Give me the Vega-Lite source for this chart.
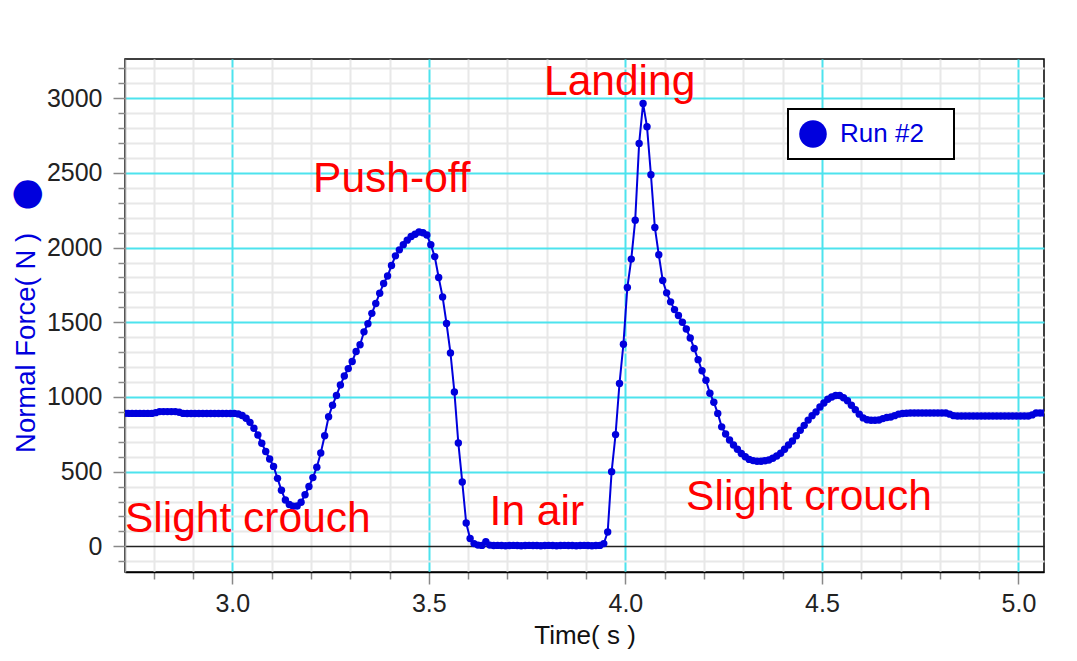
{
  "$schema": "https://vega.github.io/schema/vega-lite/v6.json",
  "width": 919,
  "height": 513,
  "autosize": {"type": "none"},
  "padding": {"left": 125, "top": 59, "right": 33, "bottom": 89},
  "background": "white",
  "config": {
    "view": {"stroke": "black", "strokeWidth": 1.5},
    "font": "Liberation Sans",
    "legend": {"strokeWidth": 2}
  },
  "datasets": {
    "force": [
      {"t":2.725,"f":890},{"t":2.735,"f":890},{"t":2.745,"f":890},{"t":2.755,"f":890},{"t":2.765,"f":890},{"t":2.775,"f":890},{"t":2.785,"f":890},{"t":2.795,"f":890},{"t":2.805,"f":895},{"t":2.815,"f":902},{"t":2.825,"f":902},{"t":2.835,"f":902},{"t":2.845,"f":902},{"t":2.855,"f":902},{"t":2.865,"f":898},{"t":2.875,"f":890},{"t":2.885,"f":889},{"t":2.895,"f":889},{"t":2.905,"f":889},{"t":2.915,"f":889},{"t":2.925,"f":889},{"t":2.935,"f":889},{"t":2.945,"f":889},{"t":2.955,"f":889},{"t":2.965,"f":889},{"t":2.975,"f":889},{"t":2.985,"f":889},{"t":2.995,"f":889},
      {"t":3.005,"f":890},{"t":3.015,"f":886},{"t":3.025,"f":876},{"t":3.035,"f":858},{"t":3.045,"f":830},{"t":3.055,"f":790},{"t":3.065,"f":745},{"t":3.075,"f":690},{"t":3.085,"f":635},{"t":3.095,"f":585},{"t":3.105,"f":535},{"t":3.115,"f":455},{"t":3.125,"f":375},{"t":3.135,"f":310},{"t":3.145,"f":280},{"t":3.155,"f":268},{"t":3.165,"f":270},{"t":3.175,"f":295},{"t":3.185,"f":345},{"t":3.195,"f":400},{"t":3.205,"f":460},{"t":3.215,"f":530},{"t":3.225,"f":625},{"t":3.235,"f":740},{"t":3.245,"f":868},{"t":3.255,"f":945},{"t":3.265,"f":1010},{"t":3.275,"f":1080},{"t":3.285,"f":1140},{"t":3.295,"f":1190},
      {"t":3.305,"f":1237},{"t":3.315,"f":1305},{"t":3.325,"f":1350},{"t":3.335,"f":1436},{"t":3.345,"f":1490},{"t":3.355,"f":1560},{"t":3.365,"f":1626},{"t":3.375,"f":1695},{"t":3.385,"f":1760},{"t":3.395,"f":1810},{"t":3.405,"f":1880},{"t":3.415,"f":1945},{"t":3.425,"f":1985},{"t":3.435,"f":2020},{"t":3.445,"f":2050},{"t":3.455,"f":2075},{"t":3.465,"f":2090},{"t":3.475,"f":2105},{"t":3.485,"f":2100},{"t":3.495,"f":2084},
      {"t":3.505,"f":2020},{"t":3.515,"f":1940},{"t":3.525,"f":1800},{"t":3.535,"f":1670},{"t":3.545,"f":1492},{"t":3.555,"f":1295},{"t":3.565,"f":1034},{"t":3.575,"f":692},{"t":3.585,"f":431},{"t":3.595,"f":156},{"t":3.605,"f":52},{"t":3.615,"f":18},{"t":3.625,"f":8},{"t":3.635,"f":6},{"t":3.645,"f":30},{"t":3.655,"f":8},{"t":3.665,"f":5},{"t":3.675,"f":6},{"t":3.685,"f":5},{"t":3.695,"f":4},
      {"t":3.705,"f":5},{"t":3.715,"f":6},{"t":3.725,"f":5},{"t":3.735,"f":4},{"t":3.745,"f":5},{"t":3.755,"f":6},{"t":3.765,"f":5},{"t":3.775,"f":5},{"t":3.785,"f":4},{"t":3.795,"f":5},{"t":3.805,"f":6},{"t":3.815,"f":5},{"t":3.825,"f":4},{"t":3.835,"f":5},{"t":3.845,"f":6},{"t":3.855,"f":5},{"t":3.865,"f":5},{"t":3.875,"f":4},{"t":3.885,"f":5},{"t":3.895,"f":6},
      {"t":3.905,"f":5},{"t":3.915,"f":4},{"t":3.925,"f":5},{"t":3.935,"f":6},{"t":3.945,"f":18},{"t":3.955,"f":96},{"t":3.965,"f":500},{"t":3.975,"f":748},{"t":3.985,"f":1090},{"t":3.995,"f":1353},
      {"t":4.005,"f":1733},{"t":4.015,"f":1923},{"t":4.025,"f":2184},{"t":4.035,"f":2698},{"t":4.045,"f":2965},{"t":4.055,"f":2810},{"t":4.065,"f":2488},{"t":4.075,"f":2135},{"t":4.085,"f":1952},{"t":4.095,"f":1780},{"t":4.105,"f":1697},{"t":4.115,"f":1637},{"t":4.125,"f":1585},{"t":4.135,"f":1545},{"t":4.145,"f":1500},{"t":4.155,"f":1455},{"t":4.165,"f":1395},{"t":4.175,"f":1325},{"t":4.185,"f":1250},{"t":4.195,"f":1175},
      {"t":4.205,"f":1112},{"t":4.215,"f":1025},{"t":4.225,"f":965},{"t":4.235,"f":890},{"t":4.245,"f":800},{"t":4.255,"f":752},{"t":4.265,"f":712},{"t":4.275,"f":678},{"t":4.285,"f":650},{"t":4.295,"f":622},{"t":4.305,"f":600},{"t":4.315,"f":582},{"t":4.325,"f":574},{"t":4.335,"f":570},{"t":4.345,"f":570},{"t":4.355,"f":573},{"t":4.365,"f":578},{"t":4.375,"f":590},{"t":4.385,"f":605},{"t":4.395,"f":623},
      {"t":4.405,"f":650},{"t":4.415,"f":678},{"t":4.425,"f":705},{"t":4.435,"f":740},{"t":4.445,"f":777},{"t":4.455,"f":810},{"t":4.465,"f":845},{"t":4.475,"f":875},{"t":4.485,"f":900},{"t":4.495,"f":933},{"t":4.505,"f":960},{"t":4.515,"f":985},{"t":4.525,"f":1000},{"t":4.535,"f":1010},{"t":4.545,"f":1010},{"t":4.555,"f":995},{"t":4.565,"f":975},{"t":4.575,"f":945},{"t":4.585,"f":915},{"t":4.595,"f":885},
      {"t":4.605,"f":860},{"t":4.615,"f":848},{"t":4.625,"f":844},{"t":4.635,"f":844},{"t":4.645,"f":846},{"t":4.655,"f":855},{"t":4.665,"f":862},{"t":4.675,"f":866},{"t":4.685,"f":875},{"t":4.695,"f":885},{"t":4.705,"f":889},{"t":4.715,"f":891},{"t":4.725,"f":893},{"t":4.735,"f":893},{"t":4.745,"f":893},{"t":4.755,"f":893},{"t":4.765,"f":893},{"t":4.775,"f":893},{"t":4.785,"f":893},{"t":4.795,"f":893},
      {"t":4.805,"f":893},{"t":4.815,"f":893},{"t":4.825,"f":885},{"t":4.835,"f":875},{"t":4.845,"f":873},{"t":4.855,"f":873},{"t":4.865,"f":873},{"t":4.875,"f":873},{"t":4.885,"f":873},{"t":4.895,"f":873},{"t":4.905,"f":873},{"t":4.915,"f":873},{"t":4.925,"f":873},{"t":4.935,"f":873},{"t":4.945,"f":873},{"t":4.955,"f":873},{"t":4.965,"f":873},{"t":4.975,"f":873},{"t":4.985,"f":873},{"t":4.995,"f":873},
      {"t":5.005,"f":873},{"t":5.015,"f":873},{"t":5.025,"f":873},{"t":5.035,"f":880},{"t":5.045,"f":893},{"t":5.055,"f":893},{"t":5.065,"f":893}
    ],
    "notes": [
      {"t":2.727,"f":96,"label":"Slight crouch"},
      {"t":3.2056,"f":2374,"label":"Push-off"},
      {"t":3.793,"f":3022,"label":"Landing"},
      {"t":3.6545,"f":141,"label":"In air"},
      {"t":4.1545,"f":241,"label":"Slight crouch"}
    ]
  },
  "encoding": {
    "x": {
      "field": "t", "type": "quantitative",
      "scale": {"domain": [2.727, 5.065], "nice": false, "zero": false},
      "axis": {
        "values": [2.8,2.9,3,3.1,3.2,3.3,3.4,3.5,3.6,3.7,3.8,3.9,4,4.1,4.2,4.3,4.4,4.5,4.6,4.7,4.8,4.9,5],
        "title": "Time( s )",
        "titleFontSize": 26, "titleFontWeight": "normal", "titleColor": "#111", "titlePadding": 6,
        "labelFontSize": 25, "labelColor": "#222", "labelPadding": 7, "labelOverlap": false, "labelFlush": false,
        "labelExpr": "abs(datum.value*2 - round(datum.value*2)) < 0.001 ? format(datum.value, '.1f') : ''",
        "tickColor": "#888", "tickWidth": 1.5,
        "tickSize": {"condition": {"test": "abs(datum.value*2 - round(datum.value*2)) < 0.001", "value": 12}, "value": 7},
        "domainColor": "black", "domainWidth": 1.5,
        "grid": true, "gridWidth": 2,
        "gridColor": {"condition": {"test": "abs(datum.value*2 - round(datum.value*2)) < 0.001", "value": "#4de3ee"}, "value": "#e8e8e8"}
      }
    },
    "y": {
      "field": "f", "type": "quantitative",
      "scale": {"domain": [-172, 3263], "nice": false, "zero": false},
      "axis": {
        "values": [-100,0,100,200,300,400,500,600,700,800,900,1000,1100,1200,1300,1400,1500,1600,1700,1800,1900,2000,2100,2200,2300,2400,2500,2600,2700,2800,2900,3000,3100,3200],
        "title": "Normal Force( N )\u00a0\u00a0\u00a0⬤",
        "titleFontSize": 27.5, "titleFontWeight": "normal", "titleColor": "#0000dd", "titlePadding": 6,
        "labelFontSize": 25, "labelColor": "#222", "labelPadding": 11, "labelOverlap": false, "labelFlush": false,
        "labelExpr": "datum.value % 500 === 0 ? format(datum.value, 'd') : ''",
        "tickColor": "#888", "tickWidth": 1.5,
        "tickSize": {"condition": {"test": "datum.value % 500 === 0", "value": 12}, "value": 7},
        "domainColor": "#999", "domainWidth": 1.5,
        "grid": true,
        "gridWidth": {"condition": {"test": "datum.value === 0", "value": 1.5}, "value": 2},
        "gridColor": {"condition": [{"test": "datum.value === 0", "value": "#222"}, {"test": "datum.value % 500 === 0", "value": "#4de3ee"}], "value": "#e8e8e8"}
      }
    }
  },
  "layer": [
    {
      "data": {"name": "force"},
      "mark": {"type": "line", "color": "#0000dd", "strokeWidth": 2, "clip": true}
    },
    {
      "data": {"name": "force"},
      "mark": {"type": "circle", "size": 55, "opacity": 1, "clip": true},
      "encoding": {
        "color": {
          "datum": "Run #2", "type": "nominal",
          "scale": {"range": ["#0000dd"]},
          "legend": {
            "orient": "none", "legendX": 663, "legendY": 50,
            "title": null, "labelColor": "#0000dd", "labelFontSize": 26, "labelFont": "Liberation Sans",
            "symbolSize": 760, "symbolType": "circle", "symbolStrokeWidth": 0,
            "strokeColor": "black", "fillColor": "white", "padding": 11, "labelOffset": 13,
            "labelExpr": "datum.label + '\u2800'"
          }
        }
      }
    },
    {
      "data": {"name": "notes"},
      "mark": {"type": "text", "align": "left", "baseline": "alphabetic", "fontSize": 42.5, "color": "#ff0000", "font": "Liberation Sans"},
      "encoding": {
        "text": {"field": "label"}
      }
    }
  ]
}
